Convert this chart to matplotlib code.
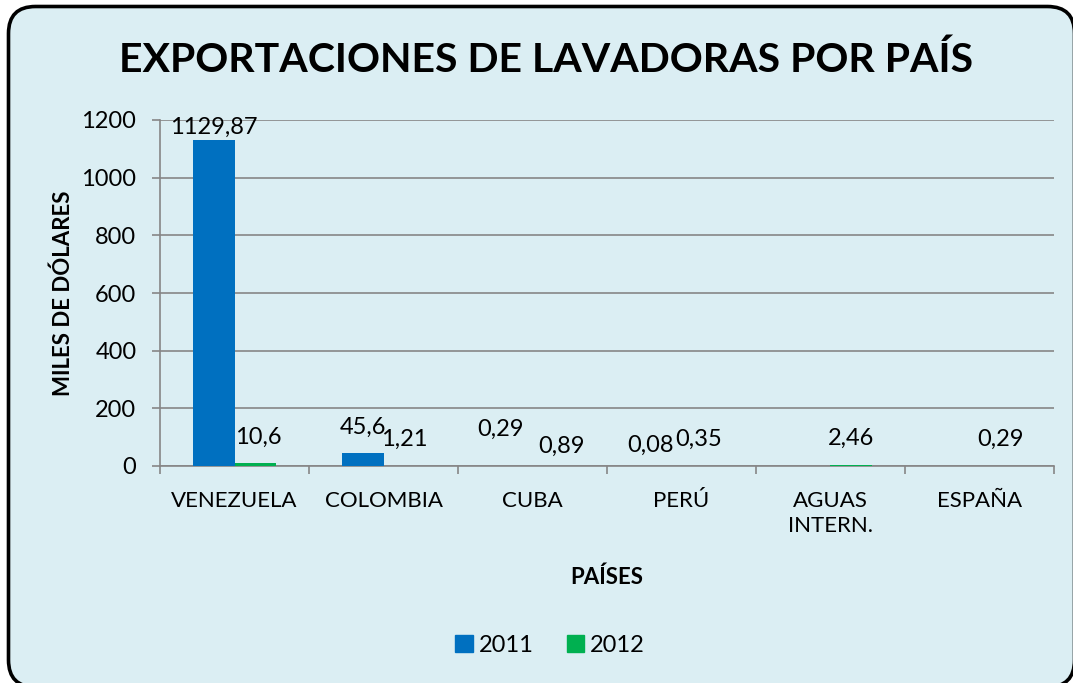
import matplotlib
matplotlib.use('Agg')
import matplotlib.pyplot as plt
from matplotlib.patches import FancyBboxPatch, Patch
import numpy as np

# data (miles de dólares)
countries = ['VENEZUELA', 'COLOMBIA', 'CUBA', 'PERÚ', 'AGUAS\nINTERN.', 'ESPAÑA']
exp_2011 = [1129.87, 45.6, 0.29, 0.08, None, None]
exp_2012 = [10.6, 1.21, 0.89, 0.35, 2.46, 0.29]
years = ['2011', '2012']
yticks = [0, 200, 400, 600, 800, 1000, 1200]

# label offsets in pixels (dx, dy) from top of each bar
nudge_2011 = [(0, 13), (0, 26), (-11, 37), (-10, 21), None, None]
nudge_2012 = [(3, 26), (0, 26), (8, 19), (-4, 27), (0, 27), (0, 27)]

bg = '#DBEEF3'
c2011 = '#0070C0'
c2012 = '#00B050'
grid_c = '#868686'
plt.rcParams['font.family'] = ['Lato', 'DejaVu Sans']
fs = 16
fs_num = 17

fig = plt.figure(figsize=(10.73, 6.83), dpi=100)
fig.patch.set_facecolor('white')
# rounded chart-area frame, in inches (runs off the right and bottom edges)
frame = FancyBboxPatch((0.085, -0.04), 10.66, 6.83 - 0.065 + 0.04,
                       boxstyle='round,pad=0,rounding_size=0.27',
                       transform=fig.dpi_scale_trans, facecolor=bg,
                       edgecolor='black', linewidth=2.6, zorder=-5)
fig.patches.append(frame)

ax = fig.add_axes([160 / 1073, 1 - 466 / 683, 894 / 1073, 346 / 683])
ax.set_facecolor('none')
ax.set_zorder(2)

x = np.arange(len(countries))
w = 0.28
for vals, off, col, nud in [(exp_2011, -w / 2, c2011, nudge_2011),
                            (exp_2012, w / 2, c2012, nudge_2012)]:
    for i, v in enumerate(vals):
        if v is None:
            continue
        ax.bar(x[i] + off, v, w, color=col, zorder=3)
        ax.annotate(str(v).replace('.', ','), (x[i] + off, v),
                    xytext=nud[i], textcoords='offset pixels',
                    ha='center', va='center', fontsize=fs_num, zorder=4)

ax.set_xlim(-0.5, len(countries) - 0.5)
ax.set_ylim(0, 1200)
ax.set_yticks(yticks)
ax.tick_params(axis='y', labelsize=fs_num, length=6, color=grid_c, width=1.2, pad=11)
ax.yaxis.grid(True, color=grid_c, linewidth=1.2, zorder=1)
ax.set_axisbelow(True)
ax.set_xticks(x)
ax.set_xticklabels(countries, fontsize=fs, linespacing=1.3)
ax.tick_params(axis='x', length=0, pad=18)
ax.set_xticks(np.arange(-0.5, len(countries)), minor=True)
ax.tick_params(axis='x', which='minor', length=6, color=grid_c, width=1.2)
for s in ['top', 'right']:
    ax.spines[s].set_visible(False)
for s in ['left', 'bottom']:
    ax.spines[s].set_color(grid_c)
    ax.spines[s].set_linewidth(1.2)

ax.set_ylabel('MILES DE DÓLARES', fontsize=fs, fontweight='bold', labelpad=5)
ax.set_xlabel('PAÍSES', fontsize=fs, fontweight='bold', labelpad=22)

fig.text(546 / 1073, 1 - 60 / 683, 'EXPORTACIONES DE LAVADORAS POR PAÍS',
         ha='center', va='center', fontsize=29.5, fontweight='bold')

handles = [Patch(color=c2011), Patch(color=c2012)]
fig.legend(handles, years, loc='center', bbox_to_anchor=(550 / 1073, 1 - 645 / 683),
           ncol=2, frameon=False, fontsize=fs_num, handlelength=0.75, handleheight=0.75,
           handletextpad=0.25, columnspacing=1.4)

fig.savefig('out.png', dpi=100, facecolor=fig.get_facecolor())
